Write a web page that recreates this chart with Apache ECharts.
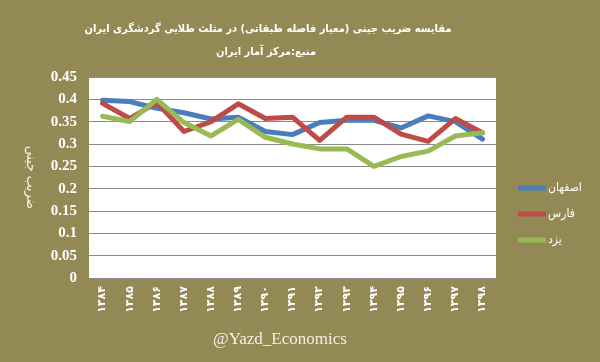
<!DOCTYPE html>
<html>
<head>
<meta charset="utf-8">
<script src="https://cdn.jsdelivr.net/npm/echarts@6/dist/echarts.min.js"></script>
<style>
html,body{margin:0;padding:0;background:#938955;}
#c{width:600px;height:362px;}
</style>
</head>
<body>
<div id="c"></div>
<script>
const years = ['۱۳۸۴','۱۳۸۵','۱۳۸۶','۱۳۸۷','۱۳۸۸','۱۳۸۹','۱۳۹۰','۱۳۹۱','۱۳۹۲','۱۳۹۳','۱۳۹۴','۱۳۹۵','۱۳۹۶','۱۳۹۷','۱۳۹۸'];
const isfahan = [0.398,0.395,0.380,0.370,0.356,0.360,0.328,0.321,0.348,0.353,0.353,0.336,0.363,0.350,0.311];
const fars    = [0.391,0.357,0.393,0.328,0.350,0.390,0.357,0.360,0.308,0.360,0.360,0.322,0.306,0.357,0.325];
const yazd    = [0.362,0.350,0.400,0.348,0.318,0.355,0.315,0.300,0.289,0.289,0.250,0.272,0.284,0.318,0.325];
const seriesNames = ['اصفهان','فارس','یزد'];
const titleText = 'مقایسه ضریب جینی (معیار فاصله طبقاتی) در مثلث طلایی گردشگری ایران';
const subText = 'منبع:مرکز آمار ایران';
const yName = 'ضریب جینی';
const watermark = '@Yazd_Economics';

const colors = ['#4A7EBB','#BE4B48','#98B954'];
const fa = "'DejaVu Sans Condensed','DejaVu Sans'";
const chart = echarts.init(document.getElementById('c'), null, {renderer:'canvas'});
const mk = (name, data, i) => ({
  name, type:'line', data, symbol:'none', smooth:false,
  lineStyle:{color:colors[i], width:5, cap:'round', join:'round'},
  itemStyle:{color:colors[i]}, z: 3
});
chart.setOption({
  backgroundColor:'#938955',
  animation:false,
  title:[
    {text:titleText, left:263, textAlign:'center', top:19,
     textStyle:{color:'#ffffff', fontSize:11, fontWeight:'bold', fontFamily:fa}},
    {text:subText, left:261, textAlign:'center', top:42,
     textStyle:{color:'#ffffff', fontSize:11, fontWeight:'bold', fontFamily:fa}},
    {text:watermark, left:208, top:326,
     textStyle:{color:'#f4f1e4', fontSize:17, fontWeight:'normal', fontFamily:'Liberation Serif'}}
  ],
  legend:{
    orient:'vertical', left:513, top:177, itemGap:14,
    itemWidth:28, itemHeight:5, icon:'roundRect',
    data:seriesNames,
    textStyle:{color:'#ffffff', fontSize:12, fontWeight:'normal', fontFamily:fa, padding:[0,0,0,-3]}
  },
  grid:{left:89, right:104, top:77, bottom:84, show:true, backgroundColor:'#ffffff', borderWidth:0},
  xAxis:{
    type:'category', data:years, boundaryGap:true,
    axisLine:{show:false}, axisTick:{show:false},
    axisLabel:{rotate:90, color:'#ffffff', fontSize:11, fontWeight:'bold', fontFamily:'DejaVu Sans', margin:8}
  },
  yAxis:{
    type:'value', min:0, max:0.45, interval:0.05,
    name:yName, nameLocation:'middle', nameRotate:-90, nameGap:51,
    nameTextStyle:{color:'#f4f1e4', fontSize:14, fontFamily:fa},
    axisLine:{show:false}, axisTick:{show:false},
    axisLabel:{color:'#ffffff', fontSize:15, fontWeight:'bold', fontFamily:'Liberation Serif', margin:12,
      formatter:v=>String(+v.toFixed(2))},
    splitLine:{lineStyle:{color:'#8a8a8a', width:1}}
  },
  series:[mk(seriesNames[0], isfahan, 0), mk(seriesNames[1], fars, 1), mk(seriesNames[2], yazd, 2)]
});
</script>
</body>
</html>
